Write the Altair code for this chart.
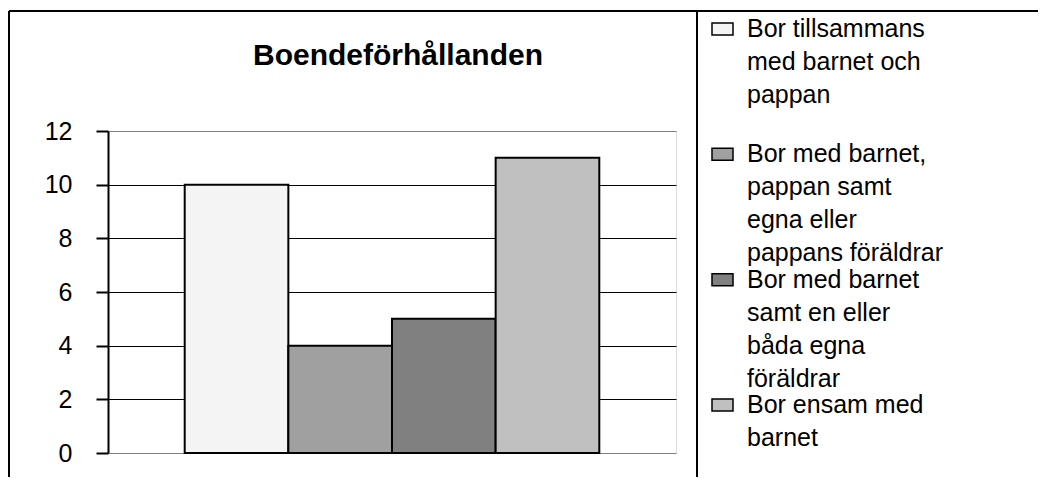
import altair as alt
import pandas as pd

# ---- data ----
categories = [
    "Bor tillsammans med barnet och pappan",
    "Bor med barnet, pappan samt egna eller pappans föräldrar",
    "Bor med barnet samt en eller båda egna föräldrar",
    "Bor ensam med barnet",
]
legend_lines = [
    ["Bor tillsammans", "med barnet och", "pappan"],
    ["Bor med barnet,", "pappan samt", "egna eller", "pappans föräldrar"],
    ["Bor med barnet", "samt en eller", "båda egna", "föräldrar"],
    ["Bor ensam med", "barnet"],
]
values = [10, 4, 5, 11]
colors = ["#F4F4F4", "#A0A0A0", "#808080", "#C0C0C0"]
y_ticks = [0, 2, 4, 6, 8, 10, 12]
title_text = "Boendeförhållanden"

df = pd.DataFrame({
    "category": categories,
    "value": values,
    "label": ["\n".join(l) for l in legend_lines],
})
frame_df = pd.DataFrame({"k": [0]})

FONT = "Liberation Sans"
W, H = 568, 322
PAD = {"left": 100, "top": 123, "right": 362, "bottom": 24}

color_scale = alt.Scale(domain=categories, range=colors)

bars = alt.Chart(df).mark_bar(stroke="black", strokeWidth=2).encode(
    x=alt.X("category:N", sort=categories,
            scale=alt.Scale(paddingInner=0, paddingOuter=0.74), axis=None),
    y=alt.Y("value:Q",
            scale=alt.Scale(domain=[0, 12], nice=False),
            axis=alt.Axis(values=y_ticks, title=None, grid=True,
                          gridColor=alt.condition("datum.value == 0 || datum.value == 12",
                                                  alt.value("#808080"), alt.value("black")),
                          gridWidth=1,
                          domainColor="black", domainWidth=2,
                          tickColor="black", tickWidth=2, tickSize=12,
                          labelPadding=24, labelFontSize=25, labelFont=FONT,
                          labelColor="black")),
    fill=alt.Fill("category:N", scale=color_scale, legend=None),
)

sym_shape = "M-1,-0.571H1V0.571H-1Z"
legend_sym = alt.Chart(df).mark_point(
    shape=sym_shape, filled=True, size=441, stroke="black",
    strokeWidth=1.5, opacity=1
).encode(
    x=alt.value(614.5),
    y=alt.Y("category:N", sort=categories,
            scale=alt.Scale(type="point", range=[-102, 274], padding=0), axis=None),
    fill=alt.Fill("category:N", scale=color_scale, legend=None),
)

legend_txt = alt.Chart(df).mark_text(
    align="left", baseline="alphabetic", lineBreak="\n", lineHeight=33,
    fontSize=25, font=FONT, color="black"
).encode(
    x=alt.value(639),
    y=alt.Y("category:N", sort=categories,
            scale=alt.Scale(type="point", range=[-94, 282], padding=0), axis=None),
    text="label:N",
)

top_border = alt.Chart(frame_df).mark_rule(color="black", strokeWidth=2).encode(
    x=alt.value(-99), x2=alt.value(930), y=alt.value(-120))
left_border = alt.Chart(frame_df).mark_rule(color="black", strokeWidth=2).encode(
    x=alt.value(-99), y=alt.value(-120), y2=alt.value(350))
separator = alt.Chart(frame_df).mark_rule(color="black", strokeWidth=2).encode(
    x=alt.value(589), y=alt.value(-120), y2=alt.value(350))

chart = alt.layer(
    bars, legend_sym, legend_txt, top_border, left_border, separator
).resolve_scale(
    y="independent", x="independent"
).properties(
    width=W, height=H,
    autosize=alt.AutoSizeParams(type="none"),
    padding=PAD,
    title=alt.Title(title_text, fontSize=30, fontWeight="bold", font=FONT,
                    anchor="middle", frame="group", baseline="alphabetic",
                    color="black", offset=-85, dx=6),
).configure_view(
    stroke="#808080", strokeWidth=2
).configure(background="white")

chart.save("out.html", embed_options={"renderer": "svg", "actions": False})
